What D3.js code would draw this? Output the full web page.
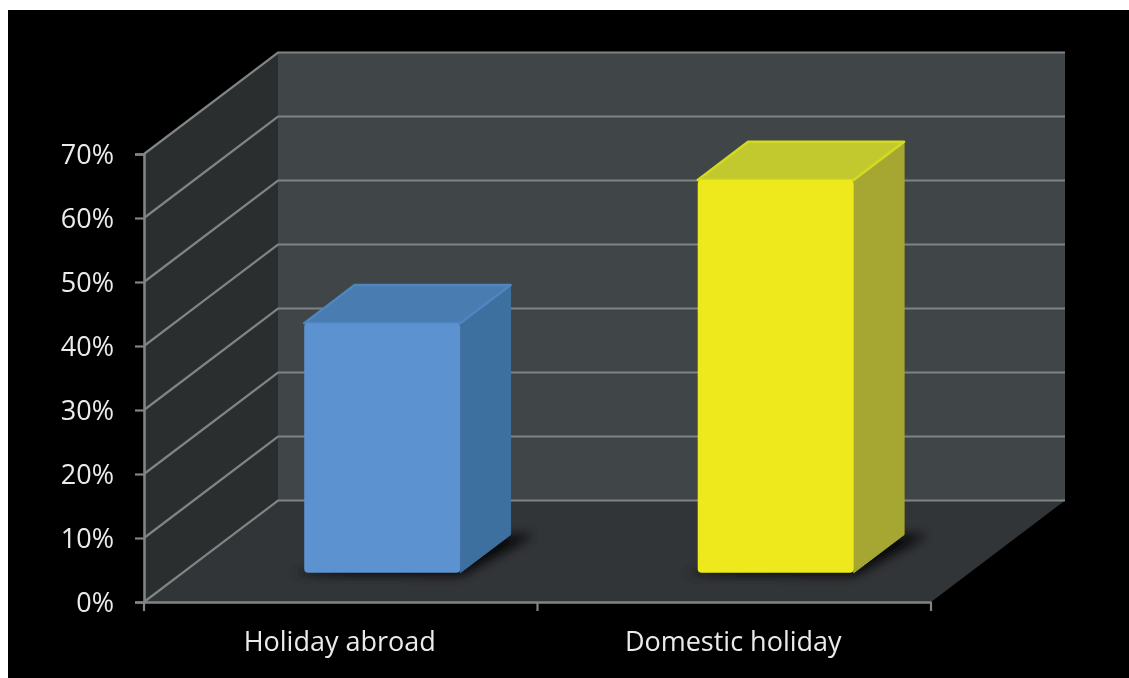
<!DOCTYPE html>
<html><head><meta charset="utf-8">
<script src="https://cdn.jsdelivr.net/npm/d3@7"></script>
<style>html,body{margin:0;padding:0;background:#fff;overflow:hidden}svg{display:block}</style>
</head><body><svg id="c" width="1129" height="678"></svg>
<script>
const categories = ["Holiday abroad", "Domestic holiday"];
const values = [39, 61.4];
const barColors = ["#5b92d0", "#eee91e"];
const sideColors = ["#3d6f9f", "#a5a732"];
const topColors = ["#4a7bb0", "#c2c92e"];
const edgeColors = ["#4f86c0", "#d4da22"];
const yTicks = [0, 10, 20, 30, 40, 50, 60, 70];

const svg = d3.select("#c");
const W = 1129, H = 678;
const x = d3.scaleBand().domain(categories).range([144, 931]).paddingInner(0).paddingOuter(0);
const y = d3.scaleLinear().domain([0, 70]).range([602, 154]);
// depth: 0 = front plane, 1 = back wall
const dX = d3.scaleLinear().domain([0, 1]).range([0, 134]);
const dY = d3.scaleLinear().domain([0, 1]).range([0, -101.5]);
const P = (px, v, d) => [px + dX(d), y(v) + dY(d)];
const line = d3.line();
const poly = pts => line(pts) + "Z";

const depthFront = 0.287, depthBack = 0.663;
const barW = 156;
const axisGrey = "#808484";
const textColor = "#e9ece9";

const defs = svg.append("defs");
defs.append("filter").attr("id", "soft").attr("x", "-5%").attr("y", "-5%").attr("width", "110%").attr("height", "110%")
  .append("feGaussianBlur").attr("stdDeviation", 0.7);
defs.append("filter").attr("id", "shadow").attr("x", "-30%").attr("y", "-30%").attr("width", "160%").attr("height", "160%")
  .append("feGaussianBlur").attr("stdDeviation", 6);

svg.append("rect").attr("width", W).attr("height", H).attr("fill", "#fff");
svg.append("rect").attr("x", 8).attr("y", 10).attr("width", W - 8).attr("height", H - 10).attr("fill", "#000");

const [x0, x1] = x.range();
const g = svg.append("g").attr("filter", "url(#soft)");

// walls and floor
g.append("path").attr("d", poly([P(x0, 0, 1), P(x1, 0, 1), P(x1, 70, 1), P(x0, 70, 1)])).attr("fill", "#3f4447");
g.append("path").attr("d", poly([P(x0, 0, 0), P(x0, 0, 1), P(x0, 70, 1), P(x0, 70, 0)])).attr("fill", "#2a2d2f");
g.append("path").attr("d", poly([P(x0, 0, 0), P(x1, 0, 0), P(x1, 0, 1), P(x0, 0, 1)])).attr("fill", "#323538");

// gridlines on the walls
const grid = g.append("g").attr("fill", "none").attr("stroke", axisGrey).attr("stroke-width", 2.2);
yTicks.forEach(t => {
  grid.append("path").attr("d", line([P(x0, t, 0), P(x0, t, 1), P(x1, t, 1)]));
});

// value axis and category axis
const axY = d3.axisLeft(y).tickValues(yTicks).tickFormat(d => d + "%").tickSize(9).tickPadding(21);
const axX = d3.axisBottom(x).tickValues([]).tickSize(0);
const axisY = g.append("g").attr("transform", `translate(${x0},0)`).call(axY);
const axisX = g.append("g").attr("transform", `translate(0,${y(0)})`).call(axX);
[axisY, axisX].forEach(a => {
  a.selectAll(".domain").attr("stroke", axisGrey).attr("stroke-width", 2.6);
  a.selectAll(".tick line").attr("stroke", axisGrey).attr("stroke-width", 2.2);
});
axisY.selectAll("text").attr("fill", textColor).attr("font-family", "Open Sans").attr("font-size", 27).attr("dy", "0.35em");

// category boundary ticks, from the band scale
const bounds = [...categories.map(c => x(c)), x1];
g.append("g").selectAll("line").data(bounds).join("line")
  .attr("x1", d => d).attr("x2", d => d).attr("y1", y(0)).attr("y2", y(0) + 9)
  .attr("stroke", axisGrey).attr("stroke-width", 2.2);

g.append("g").selectAll("text").data(categories).join("text")
  .attr("x", d => x(d) + x.bandwidth() / 2 - 1)
  .attr("y", 651)
  .attr("text-anchor", "middle")
  .attr("fill", textColor).attr("font-family", "Open Sans").attr("font-size", 27)
  .text(d => d);

// bars
categories.forEach((c, i) => {
  const left = x(c) + x.bandwidth() / 2 - barW / 2 + 3;
  const right = left + barW;
  const v = values[i];
  const b = g.append("g");
  // contact shadow on the floor
  b.append("path")
    .attr("d", poly([P(left - 14, 0, depthFront - 0.01), P(right + 4, 0, depthFront - 0.02), P(right + 24, 0, depthBack), P(right, 0, depthBack)]))
    .attr("fill", "#000").attr("opacity", 0.9).attr("filter", "url(#shadow)");
  // side face
  b.append("path").attr("d", poly([P(right, 0, depthFront), P(right, 0, depthBack), P(right, v, depthBack), P(right, v, depthFront)]))
    .attr("fill", sideColors[i]).attr("stroke", sideColors[i]).attr("stroke-width", 1).attr("stroke-linejoin", "round");
  // top face
  b.append("path").attr("d", poly([P(left, v, depthFront), P(right, v, depthFront), P(right, v, depthBack), P(left, v, depthBack)]))
    .attr("fill", topColors[i]).attr("stroke", edgeColors[i]).attr("stroke-width", 2.5).attr("stroke-linejoin", "round");
  // front face
  const [fx, fy] = P(left, v, depthFront);
  const [, fb] = P(left, 0, depthFront);
  b.append("rect").attr("x", fx).attr("y", fy).attr("width", barW).attr("height", fb - fy).attr("rx", 4)
    .attr("fill", barColors[i]);
});
</script></body></html>
